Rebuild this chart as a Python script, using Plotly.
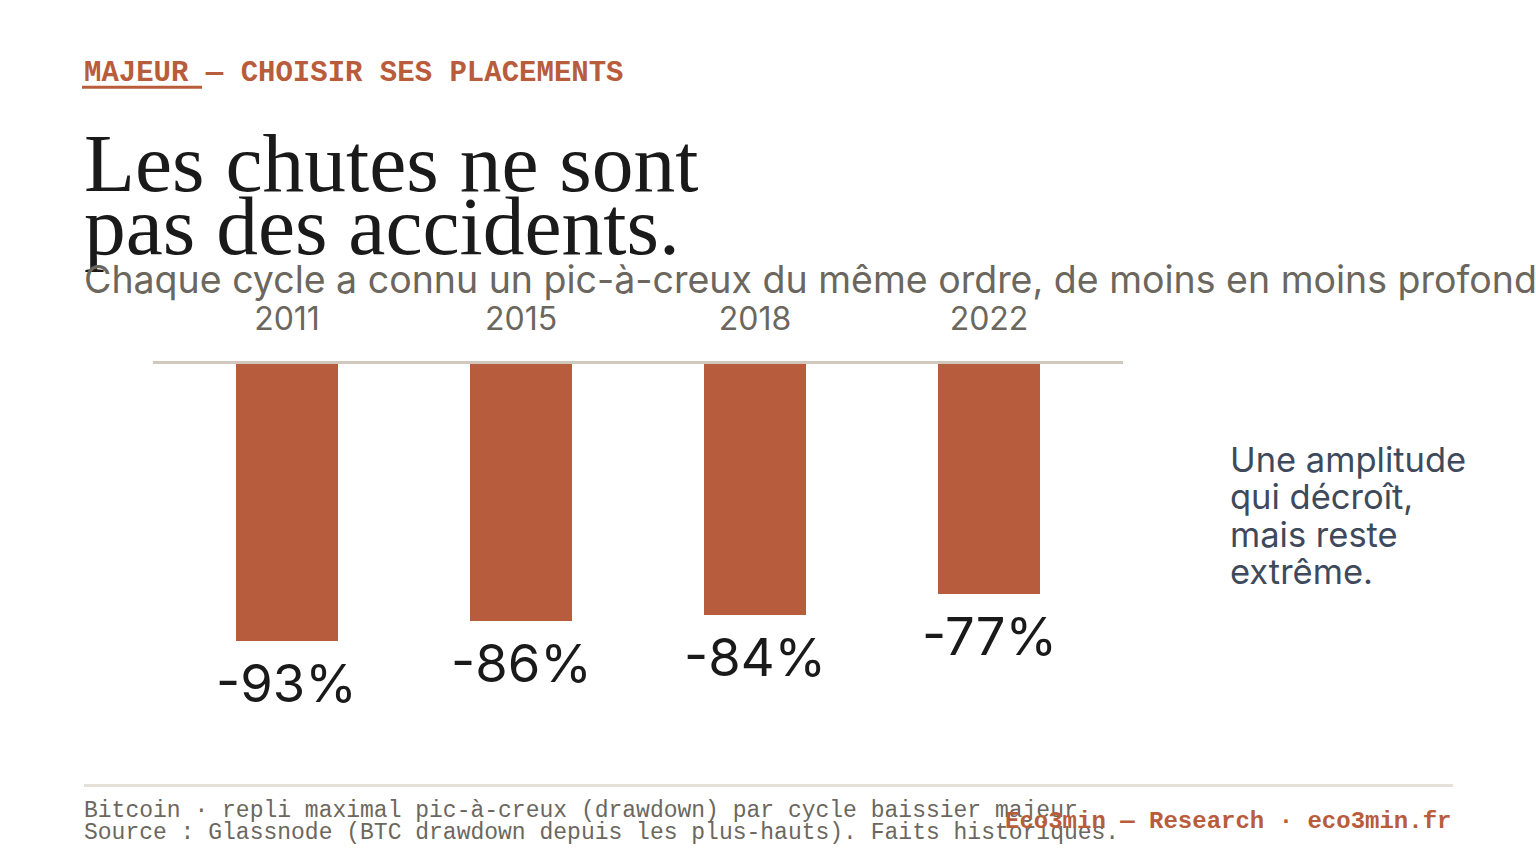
import plotly.graph_objects as go

# ---- data ----
years = ["2011", "2015", "2018", "2022"]
drawdowns = [-93, -86, -84, -77]
labels = ["-93%", "-86%", "-84%", "-77%"]

header = "MAJEUR — CHOISIR SES PLACEMENTS"
title_l1 = "Les chutes ne sont"
title_l2 = "pas des accidents."
subtitle = "Chaque cycle a connu un pic-à-creux du même ordre, de moins en moins profonds."
side_note = ["Une amplitude", "qui décroît,", "mais reste", "extrême."]
foot_l1 = "Bitcoin · repli maximal pic-à-creux (drawdown) par cycle baissier majeur"
foot_l2 = "Source : Glassnode (BTC drawdown depuis les plus-hauts). Faits historiques."
brand = "Eco3min — Research · eco3min.fr"

# ---- layout geometry (page pixels; body margin removed below) ----
OFF = 0
W, H = 1536 - OFF, 864 - OFF
PL, PR = 153 - OFF, 1123 - OFF
PT = 364 - OFF
YMIN = -120
PB = PT + 2.98 * (0 - YMIN)

def px(x):
    return (x - OFF - PL) / (PR - PL)

def py(y):
    return (PB - (y - OFF)) / (PB - PT)

ORANGE = "#b85c3c"
GRAY = "#6b675e"
DARK = "#1a1a1a"
SLATE = "#3e4a5c"

fig = go.Figure()
fig.add_trace(go.Bar(
    x=years, y=drawdowns, marker=dict(color="#b85c3e", line=dict(width=0)),
    width=0.44, hoverinfo="skip",
))

ann = []
for i, (v, lab) in enumerate(zip(drawdowns, labels)):
    ann.append(dict(x=i, y=v, xref="x", yref="y", text=lab, showarrow=False,
                    yanchor="top", xanchor="center", yshift=-8,
                    font=dict(family="Inter", size=52.5, color=DARK)))

def txt(x, y, text, size, color, family, xanchor="left", bold=False):
    if bold:
        text = "<b>" + text + "</b>"
    ann.append(dict(x=px(x), y=py(y), xref="paper", yref="paper", text=text,
                    showarrow=False, xanchor=xanchor, yanchor="middle",
                    font=dict(family=family, size=size, color=color)))

txt(82, 74, header, 29, ORANGE, "Liberation Mono", bold=True)
txt(82, 163, title_l1, 83.5, DARK, "Liberation Serif")
txt(82, 226, title_l2, 83.5, DARK, "Liberation Serif")
txt(82, 280, subtitle, 37.5, GRAY, "Inter")
for i, line in enumerate(side_note):
    txt(1228, 459 + i * 37.5, line, 34.5, SLATE, "Inter")
txt(82, 810.5, foot_l1, 23, GRAY, "Liberation Mono")
txt(82, 832.5, foot_l2, 23, GRAY, "Liberation Mono")
txt(1453, 821, brand, 24, ORANGE, "Liberation Mono", xanchor="right", bold=True)

shapes = [
    dict(type="line", xref="paper", yref="paper", x0=px(82), x1=px(202),
         y0=py(87.5), y1=py(87.5), line=dict(color=ORANGE, width=3)),
    dict(type="line", xref="paper", yref="paper", x0=px(84), x1=px(1453),
         y0=py(785), y1=py(785), line=dict(color="#e5e1d8", width=3)),
]

fig.update_layout(
    width=W, height=H,
    margin=dict(l=PL, r=W - PR, t=PT, b=H - PB, pad=0),
    paper_bgcolor="white", plot_bgcolor="white",
    showlegend=False,
    xaxis=dict(type="category", side="top", range=[-0.5726, 3.5726], showline=True,
               linecolor="#d0c8bc", linewidth=3, showgrid=False, zeroline=False,
               ticks="", ticklabelstandoff=18,
               tickfont=dict(family="Inter", size=32, color=GRAY),
               fixedrange=True),
    yaxis=dict(range=[YMIN, 0], visible=False, showgrid=False, zeroline=False,
               fixedrange=True),
    annotations=ann, shapes=shapes,
    bargap=0,
)

fig.write_html(
    "out.html",
    config={"displayModeBar": False},
    post_script="document.body.style.margin='0';document.body.style.overflow='hidden';",
)
